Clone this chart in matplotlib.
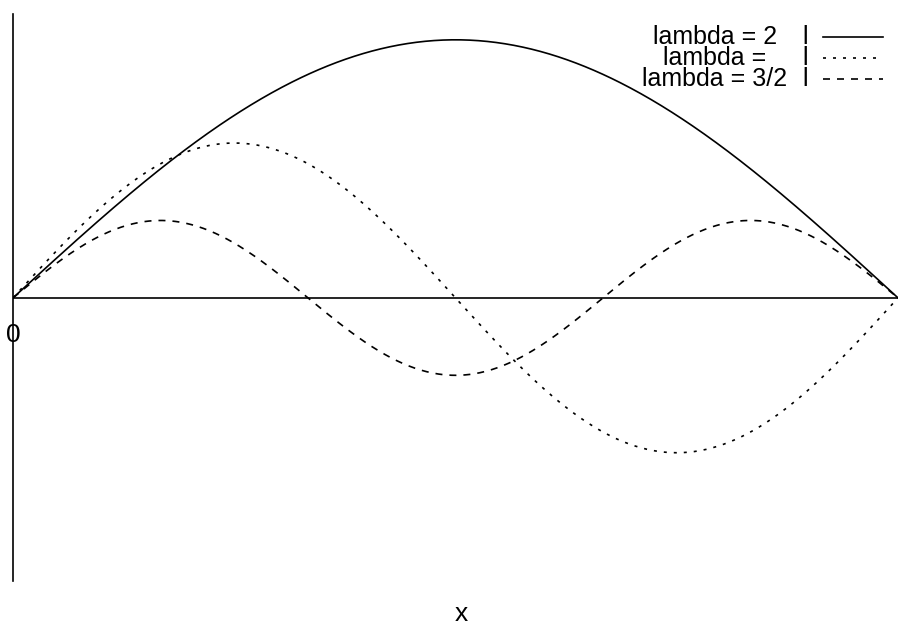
import numpy as np
import matplotlib
matplotlib.use("Agg")
import matplotlib.pyplot as plt
from matplotlib.lines import Line2D

# Standing waves on a string of length l
labels = ["lambda = 2", "lambda =", "lambda = 3/2"]
half_waves = [1, 2, 3]          # number of half wavelengths on the string
amplitudes = [1.0, 0.6, 0.3]
styles = ["-", (0, (1.8, 4.2)), (0, (4.2, 4.2))]

plt.rcParams["font.family"] = ["Liberation Sans", "DejaVu Sans"]

W, H = 898, 625
LW = 1.2
fig = plt.figure(figsize=(W / 100, H / 100), dpi=100)
ax = fig.add_axes([13 / W, (H - 581) / H, 1 - 13 / W, (581 - 14) / H])

x = np.linspace(0, 1, 600)
for n, a, ls in zip(half_waves, amplitudes, styles):
    ax.plot(x, a * np.sin(n * np.pi * x), color="black", linestyle=ls, linewidth=LW)

ax.axhline(0, color="black", linewidth=LW)
ax.set_xlim(0, 1)
ax.set_ylim(-1.097, 1.10)

for side in ["top", "right", "bottom"]:
    ax.spines[side].set_visible(False)
ax.spines["left"].set_linewidth(LW)
ax.set_xticks([])
ax.set_yticks([])

# zero label and axis label
fig.text(13 / W, 1 - 335 / H, "0", ha="center", va="center", fontsize=19)
fig.text(461 / W, 1 - 614 / H, "x", ha="center", va="center", fontsize=19)

# hand-made key, top right
rows_y = [37, 58, 79]
for lab, ls, yy in zip(labels, styles, rows_y):
    fy = 1 - yy / H
    fig.text(715 / W, fy, lab, ha="center", va="center", fontsize=18)
    fig.text(805 / W, fy, "l", ha="center", va="center", fontsize=18)
    fig.add_artist(Line2D([823 / W, 883 / W], [fy, fy], transform=fig.transFigure,
                          color="black", linestyle=ls, linewidth=LW))

fig.savefig("out.png", dpi=100)
plt.close(fig)
